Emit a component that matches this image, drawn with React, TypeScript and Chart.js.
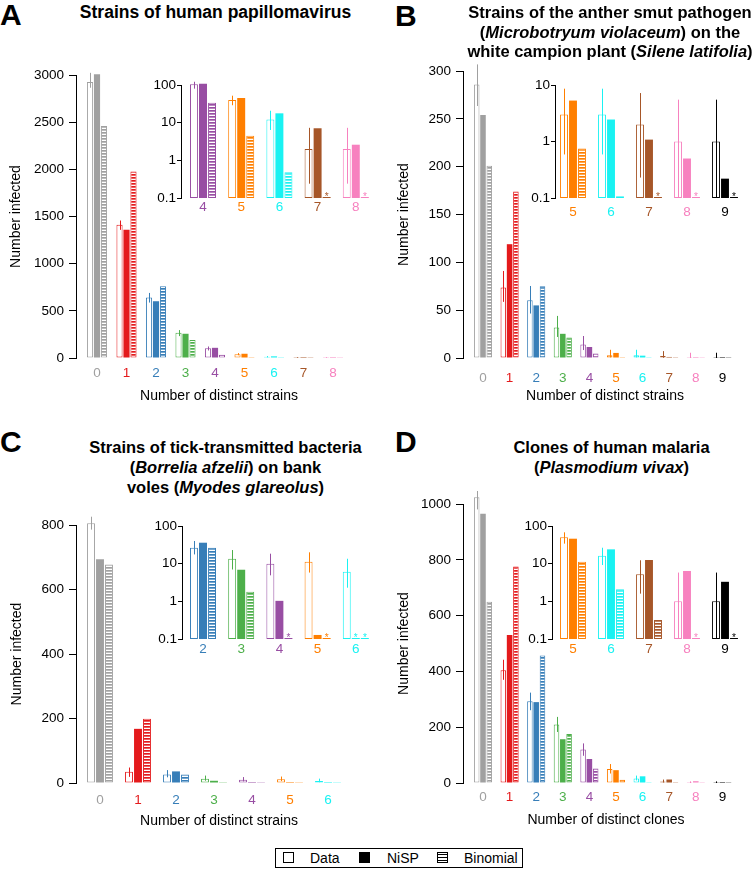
import React, { useEffect, useRef } from 'react';
import { Chart, registerables } from 'chart.js';

Chart.register(...registerables);

const FONT = '"Liberation Sans", Arial, Helvetica, sans-serif';
Chart.defaults.font.family = FONT;

// colour of each "number of strains" category (0..9)
const categoryColors = ['#A0A0A0', '#E41A1C', '#377EB8', '#4DAF4A', '#984EA3', '#FF7F00', '#19F2F2', '#A65628', '#F781BF', '#000000'];
const seriesNames = ['Data', 'NiSP', 'Binomial'];

// ---------- Panel A: human papillomavirus ----------
const aCategories = [0, 1, 2, 3, 4, 5, 6, 7, 8];
const aData = [2926, 1412, 641, 267, 104, 40, 12.2, 2.0, 2.0];
const aDataLow = [2866, 1359, 588, 232, 80, 29, 6.4, 0.24, 0.24];
const aDataHigh = [3024, 1458, 690, 296, 122, 52, 20.7, 7.3, 7.3];
const aNisp = [3010, 1359, 602, 257, 108, 45, 17.7, 7.1, 2.6];
const aBinomial = [2461, 1978, 760, 190, 34, 4.5, 0.48, 0, 0];
const aYTicks = [0, 500, 1000, 1500, 2000, 2500, 3000];
const aInsetCategories = [4, 5, 6, 7, 8];
const aInsetTicks = [0.1, 1, 10, 100];

// ---------- Panel B: anther smut ----------
const bCategories = [0, 1, 2, 3, 4, 5, 6, 7, 8, 9];
const bData = [286, 73.6, 60.4, 32, 14.2, 3, 3, 2, 1, 1];
const bDataLow = [263.5, 58.7, 46.5, 22, 8.3, 0.59, 0.59, 0.23, 0, 0];
const bDataHigh = [307, 91, 75.3, 44, 23, 8.6, 8.6, 7.2, 5.5, 5.5];
const bNisp = [254, 119, 55, 25.3, 11.5, 5.3, 2.45, 1.08, 0.5, 0.22];
const bBinomial = [201, 174, 75, 21.5, 4.8, 0.75, 0.107, 0, 0, 0];
const bYTicks = [0, 50, 100, 150, 200, 250, 300];
const bInsetCategories = [5, 6, 7, 8, 9];
const bInsetTicks = [0.1, 1, 10];

// ---------- Panel C: Borrelia afzelii ----------
const cCategories = [0, 1, 2, 3, 4, 5, 6];
const cData = [806, 35, 26.6, 13.5, 10, 11.3, 6.1];
const cDataLow = [786, 19, 17.6, 7, 4.9, 5.8, 2.3];
const cDataHigh = [826, 48, 40, 23, 18.4, 20, 13.5];
const cNisp = [694, 168, 36, 6.9, 1.03, 0.128, 0];
const cBinomial = [678, 199, 26.5, 1.8, 0, 0, 0];
const cYTicks = [0, 200, 400, 600, 800];
const cInsetCategories = [2, 3, 4, 5, 6];
const cInsetTicks = [0.1, 1, 10, 100];

// ---------- Panel D: Plasmodium vivax ----------
const dCategories = [0, 1, 2, 3, 4, 5, 6, 7, 8, 9];
const dData = [1025, 404, 293, 210, 120, 50, 16.3, 5.2, 1, 1];
const dDataLow = [981, 370, 261, 183, 97.6, 34, 9.2, 1.6, 0, 0];
const dDataHigh = [1070, 442, 324, 237, 142, 68, 26.5, 12.3, 5.8, 5.8];
const dNisp = [965, 531, 290, 157, 86, 46, 24, 12.5, 6.4, 3.3];
const dBinomial = [650, 776, 457, 176, 52, 11.3, 2.1, 0.32, 0, 0];
const dYTicks = [0, 200, 400, 600, 800, 1000];
const dInsetCategories = [5, 6, 7, 8, 9];
const dInsetTicks = [0.1, 1, 10, 100];

interface Geo {
  left: number; top: number; right: number; bottom: number;
  x0: number; unit: number; tickPad: number; yTitleX?: number; xTitleY?: number;
}
interface Spec {
  categories: number[]; data: number[]; low: number[]; high: number[];
  nisp: number[]; binom: number[]; yTicks: number[]; log: boolean;
  xTitle?: string; yTitle?: string; geo: Geo;
}

function mainSpec(categories: number[], data: number[], low: number[], high: number[], nisp: number[], binom: number[], yTicks: number[], xTitle: string, geo: Geo): Spec {
  return { categories, data, low, high, nisp, binom, yTicks, log: false, xTitle, yTitle: 'Number infected', geo };
}
function insetSpec(base: Spec, cats: number[], ticks: number[], geo: Geo): Spec {
  const s = base.categories.indexOf(cats[0]);
  const e = s + cats.length;
  return {
    categories: cats, data: base.data.slice(s, e), low: base.low.slice(s, e), high: base.high.slice(s, e),
    nisp: base.nisp.slice(s, e), binom: base.binom.slice(s, e), yTicks: ticks, log: true, geo,
  };
}

function makeStripes(color: string): CanvasPattern | string {
  const c = document.createElement('canvas');
  c.width = 4; c.height = 3;
  const g = c.getContext('2d');
  if (!g) return color;
  g.fillStyle = '#ffffff'; g.fillRect(0, 0, 4, 3);
  g.fillStyle = color; g.fillRect(0, 1, 4, 1);
  g.globalAlpha = 0.7; g.fillRect(0, 2, 4, 1);
  return g.createPattern(c, 'repeat') || color;
}

function BarChart({ spec }: { spec: Spec }) {
  const ref = useRef<HTMLCanvasElement | null>(null);
  const g = spec.geo;
  const lh = 14 * 1.2;
  const padL = 2, padT = 12, padR = 4, padB = 2;
  const Wd = spec.yTitle ? g.left - (g.yTitleX as number) + lh / 2 : 42;
  const cl = Math.floor(g.left - Wd - padL);
  const W = g.left - padL - cl;
  const H = spec.xTitle ? Math.round((g.xTitleY as number) + lh / 2 - g.bottom) : 26;
  const ct = g.top - padT;
  const cw = g.right + padR - cl;
  const ch = g.bottom + H + padB - ct;

  useEffect(() => {
    const canvas = ref.current;
    if (!canvas) return;
    const first = spec.categories[0];
    const xmin = first - (g.x0 - g.left) / g.unit;
    const xmax = first + (g.right - g.x0) / g.unit;
    const pts = (vals: number[]) => vals.map((v, i) => ({ x: spec.categories[i], y: v }));
    const cols = spec.categories.map((c) => categoryColors[c]);
    const stripes = cols.map((c) => makeStripes(c));

    const overlay = {
      id: 'overlay',
      afterDatasetsDraw(chart: any) {
        const ctx = chart.ctx as CanvasRenderingContext2D;
        const ys = chart.scales.y;
        const m0 = chart.getDatasetMeta(0);
        ctx.save();
        ctx.lineWidth = 1;
        m0.data.forEach((bar: any, i: number) => {
          const x = Math.round(bar.x) + 0.5;
          ctx.strokeStyle = cols[i];
          ctx.beginPath();
          ctx.moveTo(x, ys.getPixelForValue(spec.high[i]));
          ctx.lineTo(x, ys.getPixelForValue(spec.low[i]));
          ctx.stroke();
        });
        if (spec.log) {
          const bottom = chart.chartArea.bottom;
          const bw = m0.data.length ? m0.data[0].width : 8;
          [1, 2].forEach((di) => {
            const vals = di === 1 ? spec.nisp : spec.binom;
            const meta = chart.getDatasetMeta(di);
            meta.data.forEach((bar: any, i: number) => {
              if (vals[i] !== 0) return;
              const w = bar.width || bw;
              ctx.strokeStyle = cols[i];
              ctx.beginPath();
              ctx.moveTo(bar.x - w / 2, bottom - 0.5);
              ctx.lineTo(bar.x + w / 2, bottom - 0.5);
              ctx.stroke();
              ctx.fillStyle = cols[i];
              ctx.font = `10px ${FONT}`;
              ctx.textAlign = 'center';
              ctx.textBaseline = 'alphabetic';
              ctx.fillText('*', bar.x, bottom + 2);
            });
          });
        }
        ctx.restore();
      },
    };

    const yTickLen = spec.log ? 4 : 7;
    const yTickPad = spec.log ? 1 : 5;

    const chart = new Chart(canvas, {
      type: 'bar',
      data: {
        datasets: [
          { label: seriesNames[0], data: pts(spec.data), backgroundColor: '#ffffff', borderColor: cols, borderWidth: 1, borderSkipped: false, clip: false } as any,
          { label: seriesNames[1], data: pts(spec.nisp), backgroundColor: cols, borderColor: cols, borderWidth: 0, borderSkipped: false, clip: false } as any,
          { label: seriesNames[2], data: pts(spec.binom), backgroundColor: stripes, borderColor: cols, borderWidth: 1, borderSkipped: false, clip: false } as any,
        ],
      },
      options: {
        animation: false,
        responsive: false,
        events: [],
        layout: { padding: { left: padL, top: padT, right: padR, bottom: padB } },
        datasets: { bar: { categoryPercentage: 0.71, barPercentage: 0.88, minBarLength: 1 } },
        plugins: { legend: { display: false }, tooltip: { enabled: false }, title: { display: false } },
        scales: {
          x: {
            type: 'linear', min: xmin, max: xmax, offset: false,
            afterBuildTicks: (s: any) => { s.ticks = spec.categories.map((v) => ({ value: v })); },
            afterFit: (s: any) => { s.height = H; },
            grid: { display: false, drawTicks: false },
            border: { display: false },
            ticks: {
              autoSkip: false, maxRotation: 0, padding: g.tickPad,
              color: (c: any) => (c && c.tick ? categoryColors[c.tick.value] : '#000'),
              font: { size: 13.5 },
              callback: (v: any) => String(v),
            },
            title: spec.xTitle ? { display: true, text: spec.xTitle, color: '#000', font: { size: 14 }, padding: 0 } : { display: false },
          },
          y: {
            type: spec.log ? 'logarithmic' : 'linear',
            min: spec.yTicks[0], max: spec.yTicks[spec.yTicks.length - 1],
            afterBuildTicks: (s: any) => { s.ticks = spec.yTicks.map((v) => ({ value: v })); },
            afterFit: (s: any) => { s.width = W; },
            grid: { display: true, drawOnChartArea: false, drawTicks: true, tickLength: yTickLen, color: '#000', lineWidth: 1 },
            border: { display: true, color: '#000', width: 1 },
            ticks: { padding: yTickPad, color: '#000', font: { size: 13.5 }, autoSkip: false, callback: (v: any) => String(v) },
            title: spec.yTitle ? { display: true, text: spec.yTitle, color: '#000', font: { size: 14 }, padding: 0 } : { display: false },
          },
        },
      } as any,
      plugins: [overlay],
    });
    return () => chart.destroy();
  }, []);

  return (
    <canvas
      ref={ref}
      width={cw}
      height={ch}
      style={{ position: 'absolute', left: cl, top: ct, width: cw, height: ch, pointerEvents: 'none' }}
    />
  );
}

const specA = mainSpec(aCategories, aData, aDataLow, aDataHigh, aNisp, aBinomial, aYTicks, 'Number of distinct strains',
  { left: 76, top: 74, right: 362, bottom: 358, x0: 97, unit: 29.5, tickPad: 7, yTitleX: 17, xTitleY: 397 });
const specB = mainSpec(bCategories, bData, bDataLow, bDataHigh, bNisp, bBinomial, bYTicks, 'Number of distinct strains',
  { left: 463, top: 70, right: 747, bottom: 358, x0: 483, unit: 26.6, tickPad: 12, yTitleX: 405, xTitleY: 397 });
const specC = mainSpec(cCategories, cData, cDataLow, cDataHigh, cNisp, cBinomial, cYTicks, 'Number of distinct strains',
  { left: 76, top: 524, right: 362, bottom: 783, x0: 100, unit: 38, tickPad: 9, yTitleX: 18, xTitleY: 822 });
const specD = mainSpec(dCategories, dData, dDataLow, dDataHigh, dNisp, dBinomial, dYTicks, 'Number of distinct clones',
  { left: 463, top: 503, right: 749, bottom: 783, x0: 483, unit: 26.6, tickPad: 6, yTitleX: 405, xTitleY: 821 });

const insetA = insetSpec(specA, aInsetCategories, aInsetTicks, { left: 181, top: 85, right: 375, bottom: 198, x0: 203, unit: 38.2, tickPad: 1 });
const insetB = insetSpec(specB, bInsetCategories, bInsetTicks, { left: 555, top: 85, right: 744, bottom: 198, x0: 573, unit: 38, tickPad: 6 });
const insetC = insetSpec(specC, cInsetCategories, cInsetTicks, { left: 182, top: 526, right: 375, bottom: 639, x0: 203, unit: 38.2, tickPad: 2 });
const insetD = insetSpec(specD, dInsetCategories, dInsetTicks, { left: 552, top: 526, right: 744, bottom: 639, x0: 573, unit: 38, tickPad: 2 });

const letterStyle: React.CSSProperties = { position: 'absolute', fontFamily: FONT, fontWeight: 'bold', fontSize: 30, lineHeight: '30px', color: '#000' };

function Title({ cx, top, lh, size, children }: { cx: number; top: number; lh: number; size: number; children: React.ReactNode }) {
  return (
    <div style={{ position: 'absolute', left: cx - 160, top, width: 320, textAlign: 'center', fontFamily: FONT, fontWeight: 'bold', fontSize: size, lineHeight: `${lh}px`, whiteSpace: 'nowrap', color: '#000' }}>
      {children}
    </div>
  );
}

export default function App() {
  return (
    <div style={{ position: 'absolute', left: 0, top: 0, width: 755, height: 871, overflow: 'hidden', background: '#fff' }}>
      <BarChart spec={specA} />
      <BarChart spec={specB} />
      <BarChart spec={specC} />
      <BarChart spec={specD} />
      <BarChart spec={insetA} />
      <BarChart spec={insetB} />
      <BarChart spec={insetC} />
      <BarChart spec={insetD} />

      <div style={{ ...letterStyle, left: 0, top: 0 }}>A</div>
      <div style={{ ...letterStyle, left: 395, top: 1 }}>B</div>
      <div style={{ ...letterStyle, left: 0, top: 427 }}>C</div>
      <div style={{ ...letterStyle, left: 395, top: 427 }}>D</div>

      <Title cx={215.5} top={3} lh={19.5} size={17.5}>Strains of human papillomavirus</Title>
      <Title cx={610} top={3} lh={19.5} size={16.5}>
        Strains of the anther smut pathogen<br />(<i>Microbotryum violaceum</i>) on the<br />white campion plant (<i>Silene latifolia</i>)
      </Title>
      <Title cx={225.5} top={437} lh={20} size={16.5}>
        Strains of tick-transmitted bacteria<br />(<i>Borrelia afzelii</i>) on bank<br />voles (<i>Myodes glareolus</i>)
      </Title>
      <Title cx={611.5} top={437} lh={20} size={16.5}>
        Clones of human malaria<br />(<i>Plasmodium vivax</i>)
      </Title>

      <div style={{ position: 'absolute', left: 275, top: 848, width: 246, height: 18, border: '1px solid #000', fontFamily: FONT, fontSize: 14, lineHeight: '18px', color: '#000' }}>
        <div style={{ position: 'absolute', left: 7, top: 3, width: 9, height: 9, border: '1px solid #000', background: '#fff' }} />
        <div style={{ position: 'absolute', left: 34, top: 0 }}>{seriesNames[0]}</div>
        <div style={{ position: 'absolute', left: 83, top: 3, width: 11, height: 11, background: '#000' }} />
        <div style={{ position: 'absolute', left: 111, top: 0 }}>{seriesNames[1]}</div>
        <div style={{ position: 'absolute', left: 161, top: 3, width: 9, height: 9, border: '1px solid #000', background: 'repeating-linear-gradient(to bottom, #fff 0px, #fff 1px, #000 1px, #000 2px, #fff 2px, #fff 3px)' }} />
        <div style={{ position: 'absolute', left: 188, top: 0 }}>{seriesNames[2]}</div>
      </div>
    </div>
  );
}
